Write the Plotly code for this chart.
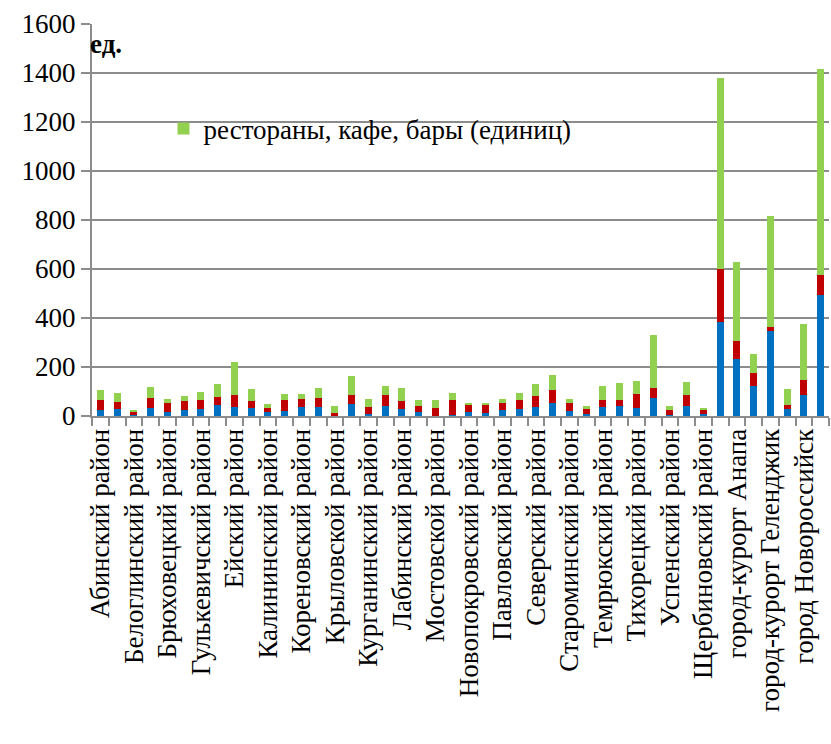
import plotly.graph_objects as go

# Districts and city districts of Krasnodar Krai
categories = [
    "Абинский район", "Апшеронский район", "Белоглинский район", "Белореченский район",
    "Брюховецкий район", "Выселковский район", "Гулькевичский район", "Динской район",
    "Ейский район", "Кавказский район", "Калининский район", "Каневской район",
    "Кореновский район", "Красноармейский район", "Крыловской район", "Крымский район",
    "Курганинский район", "Кущевский район", "Лабинский район", "Ленинградский район",
    "Мостовской район", "Новокубанский район", "Новопокровский район", "Отрадненский район",
    "Павловский район", "Приморско-Ахтарский район", "Северский район", "Славянский район",
    "Староминский район", "Тбилисский район", "Темрюкский район", "Тимашевский район",
    "Тихорецкий район", "Туапсинский район", "Успенский район", "Усть-Лабинский район",
    "Щербиновский район", "город Краснодар", "город-курорт Анапа", "город Армавир",
    "город-курорт Геленджик", "город Горячий Ключ", "город Новороссийск", "город-курорт Сочи",
]

# Stacked series, units
series_blue = [26, 27, 5, 33, 16, 23, 28, 45, 37, 31, 16, 22, 35, 35, 4, 47, 9, 42, 28, 16,
               2, 5, 18, 14, 26, 30, 38, 52, 22, 9, 35, 39, 33, 73, 5, 39, 9, 385, 234, 121,
               345, 30, 84, 492]
series_red = [39, 29, 13, 39, 36, 37, 37, 31, 50, 31, 18, 42, 33, 37, 7, 40, 28, 45, 34, 23,
              29, 62, 28, 29, 26, 34, 45, 53, 30, 21, 32, 28, 58, 42, 20, 48, 18, 216, 71, 54,
              17, 16, 61, 85]
series_green = [40, 39, 8, 48, 16, 22, 34, 56, 133, 49, 16, 27, 20, 43, 28, 78, 34, 37, 53, 28,
                33, 28, 8, 11, 19, 31, 49, 64, 19, 12, 55, 69, 53, 215, 17, 53, 7, 779, 325, 79,
                453, 64, 232, 839]

green_name = "рестораны, кафе, бары (единиц)"

# Only every other category carries a label
tick_text = [c if i % 2 == 0 else "" for i, c in enumerate(categories)]

y_ticks = [0, 200, 400, 600, 800, 1000, 1200, 1400, 1600]

SERIF = "Tinos"
GRID = "#8c8c8c"

fig = go.Figure()
fig.add_bar(x=categories, y=series_blue, marker=dict(color="#0070C0", line_width=0),
            showlegend=False)
fig.add_bar(x=categories, y=series_red, marker=dict(color="#C00000", line_width=0),
            showlegend=False)
fig.add_bar(x=categories, y=series_green, marker=dict(color="#92D050", line_width=0),
            name=green_name)

fig.update_layout(
    barmode="stack",
    bargap=0.57,
    width=831,
    height=744,
    margin=dict(l=92, r=2, t=24, b=328, autoexpand=False),
    paper_bgcolor="white",
    plot_bgcolor="white",
    font_family=SERIF,
    font_size=27,
    font_color="black",
    legend=dict(
        x=0.097, y=0.732, xanchor="left", yanchor="middle",
        bgcolor="rgba(0,0,0,0)",
        font=dict(family=SERIF, size=27),
        itemwidth=30, tracegroupgap=0,
    ),
)

fig.add_annotation(
    text="<b>ед.</b>", x=-0.006, y=0.95, xref="paper", yref="paper",
    xanchor="left", yanchor="middle", showarrow=False,
    font=dict(family=SERIF, size=27),
)

fig.update_xaxes(
    type="category",
    tickmode="array",
    tickvals=categories,
    ticktext=tick_text,
    tickangle=-90,
    tickson="boundaries",
    ticks="outside",
    ticklen=8,
    tickwidth=2,
    tickcolor=GRID,
    showline=True,
    linecolor=GRID,
    linewidth=2,
    showgrid=False,
    automargin=False,
    tickfont=dict(family=SERIF, size=27),
)

fig.update_yaxes(
    range=[0, 1600],
    tickmode="array",
    tickvals=y_ticks,
    ticks="outside",
    ticklen=9,
    tickwidth=2,
    tickcolor=GRID,
    showline=True,
    linecolor=GRID,
    linewidth=2,
    showgrid=True,
    gridcolor=GRID,
    gridwidth=2,
    zeroline=False,
    automargin=False,
    tickfont=dict(family=SERIF, size=27),
)

fig.write_html("out.html")
